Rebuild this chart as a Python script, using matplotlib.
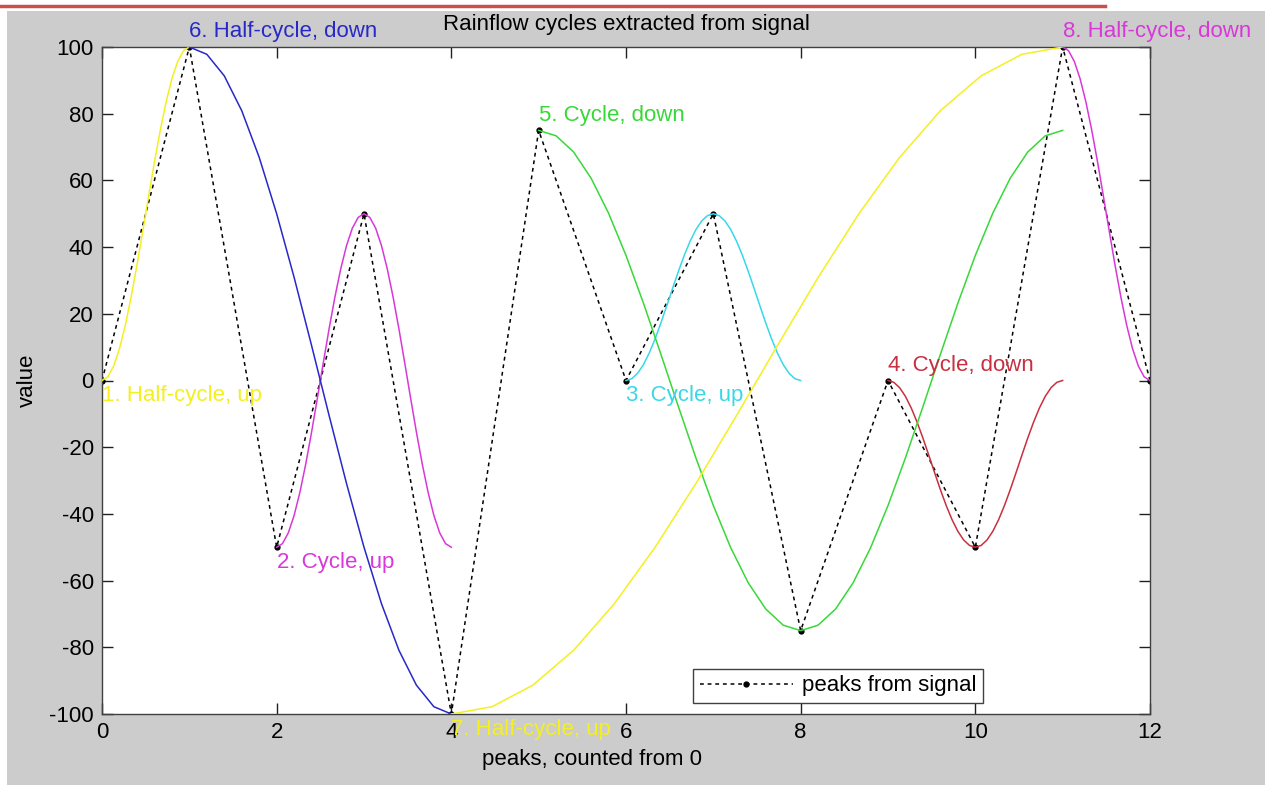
import numpy as np
import matplotlib
matplotlib.use("Agg")
import matplotlib.pyplot as plt
from matplotlib.patches import Rectangle
from matplotlib.lines import Line2D

plt.rcParams['font.family'] = ['Liberation Sans', 'DejaVu Sans']
plt.rcParams['axes.unicode_minus'] = False

# peaks of the signal
peak_x = [0, 1, 2, 3, 4, 5, 6, 7, 8, 9, 10, 11, 12]
peak_y = [0, 100, -50, 50, -100, 75, 0, 50, -75, 0, -50, 100, 0]

# rainflow cycles: start peak, turning peak, and x-index where a full cycle closes
cycle_start = [0, 2, 6, 9, 5, 1, 4, 11]
cycle_turn = [1, 3, 7, 10, 8, 4, 11, 12]
cycle_end = [None, 4, 8, 11, 11, None, None, None]
cycle_labels = ['1. Half-cycle, up', '2. Cycle, up', '3. Cycle, up', '4. Cycle, down',
                '5. Cycle, down', '6. Half-cycle, down', '7. Half-cycle, up',
                '8. Half-cycle, down']
cycle_colors = ['#f4f020', '#d838d8', '#38d8e8', '#c83040',
                '#38d838', '#2828c8', '#f4f020', '#d838d8']

FS = 16


def half_wave(x0, x1, y0, y1, n=16):
    # cosine shaped half wave between two turning points
    t = np.linspace(0, 1, n)
    x = x0 + (x1 - x0) * t
    y = (y0 + y1) / 2 + (y0 - y1) / 2 * np.cos(np.pi * t)
    return x, y


fig = plt.figure(figsize=(12.75, 7.87), dpi=100)
fig.patch.set_facecolor('white')
fig.patches.append(Rectangle((7 / 1275, 2 / 787), 1258 / 1275, 774 / 787,
                             transform=fig.transFigure, facecolor='#cccccc',
                             edgecolor='none', zorder=-10))
fig.lines.append(Line2D([0, 1105 / 1275], [1 - 5.5 / 787, 1 - 5.5 / 787],
                        transform=fig.transFigure, color='#c9504f', linewidth=2.5))

ax = fig.add_axes([102 / 1275, 73 / 787, 1048 / 1275, 667 / 787])
ax.set_facecolor('white')

ax.plot(peak_x, peak_y, color='black', linestyle=(0, (2.5, 2.5)), linewidth=1.1,
        marker='.', markersize=7, label='peaks from signal', zorder=2)

for s, tp, e, lab, c in zip(cycle_start, cycle_turn, cycle_end, cycle_labels, cycle_colors):
    x, y = half_wave(peak_x[s], peak_x[tp], peak_y[s], peak_y[tp])
    if e is not None:
        x2, y2 = half_wave(peak_x[tp], peak_x[e], peak_y[tp], peak_y[s])
        x = np.concatenate([x, x2[1:]])
        y = np.concatenate([y, y2[1:]])
    ax.plot(x, y, color=c, linewidth=1.1, zorder=3)
    up = peak_y[tp] > peak_y[s]
    ax.text(peak_x[s], peak_y[s] + (-4.5 if up else 4.5), lab, color=c,
            fontsize=FS, ha='left', va='center', clip_on=False, zorder=4)

ax.set_xlim(0, 12)
ax.set_ylim(-100, 100)
ax.set_xticks(range(0, 13, 2))
ax.set_yticks(range(-100, 101, 20))
ax.tick_params(direction='in', length=8, width=1, top=True, right=True,
               labelsize=FS, pad=6, color='#202020')
for sp in ax.spines.values():
    sp.set_color('#404040')
    sp.set_linewidth(1)

ax.set_title('Rainflow cycles extracted from signal', fontsize=FS, pad=12)
ax.set_xlabel('peaks, counted from 0', fontsize=FS, labelpad=4)
ax.xaxis.set_label_coords(0.468, -0.052)
ax.set_ylabel('value', fontsize=FS, labelpad=8)

leg = ax.legend(loc='lower right', bbox_to_anchor=(0.8406, 0.0165), borderaxespad=0,
                fancybox=False, framealpha=1, edgecolor='#404040', fontsize=FS,
                handlelength=4.2, handletextpad=0.4, borderpad=0.3)
leg.get_frame().set_linewidth(1)

fig.savefig('out.png', dpi=100)
